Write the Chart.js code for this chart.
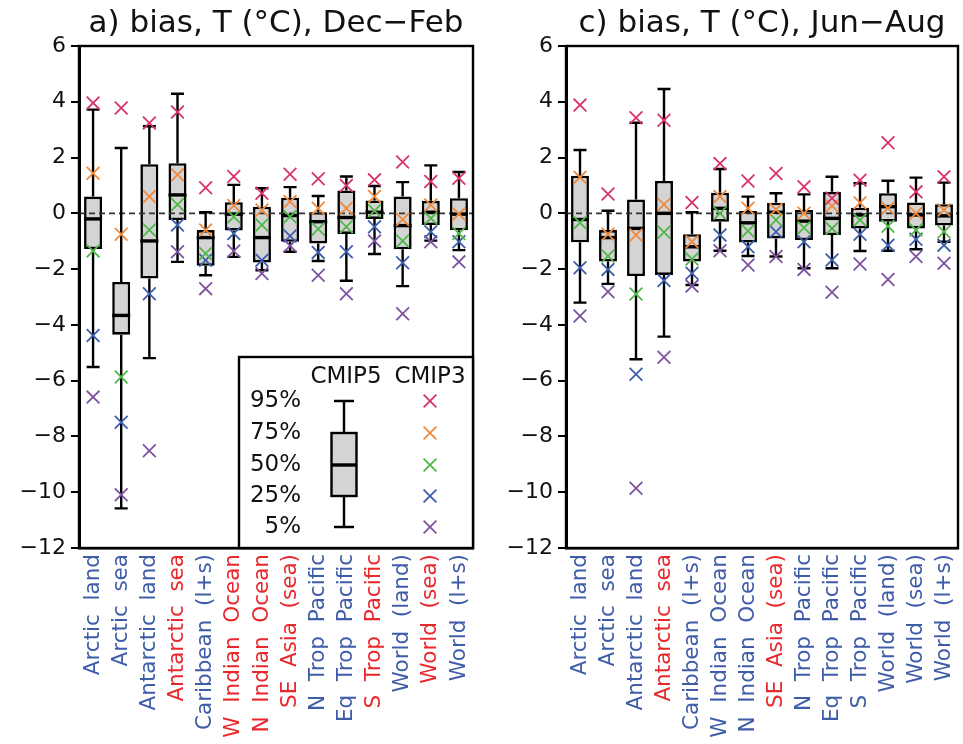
<!DOCTYPE html>
<html>
<head>
<meta charset="utf-8">
<script src="https://cdn.jsdelivr.net/npm/chart.js@4.4.0/dist/chart.umd.min.js"></script>
<style>
  html, body { margin: 0; padding: 0; background: #fff; width: 963px; height: 744px; overflow: hidden; position: relative; }
  canvas { position: absolute; top: 0; }
  #chartA { left: 0; }
  #chartC { left: 483px; }
</style>
</head>
<body>
<canvas id="chartA" width="497" height="744"></canvas>
<canvas id="chartC" width="499" height="744"></canvas>
<script>
// Regions (x-axis categories)
const regions = [
  "Arctic  land", "Arctic  sea", "Antarctic  land", "Antarctic  sea",
  "Caribbean  (l+s)", "W  Indian  Ocean", "N  Indian  Ocean", "SE  Asia  (sea)",
  "N  Trop  Pacific", "Eq  Trop  Pacific", "S  Trop  Pacific",
  "World  (land)", "World  (sea)", "World  (l+s)"
];

// Label colouring: 1 = red, 0 = blue
const djfRed = [0, 0, 0, 1, 0, 1, 1, 1, 0, 0, 1, 0, 1, 0];
const jjaRed = [0, 0, 0, 1, 0, 0, 0, 1, 0, 0, 0, 0, 0, 0];

// y-axis ticks
const yTicks = [6, 4, 2, 0, -2, -4, -6, -8, -10, -12];

// Dec-Feb, CMIP5 ensemble percentiles (box plot)
const djf5_p95 = [3.72, 2.34, 3.12, 4.29, 0.04, 1.02, 0.90, 0.94, 0.62, 1.32, 0.98, 1.12, 1.72, 1.48];
const djf5_p75 = [0.60, -2.46, 1.76, 1.80, -0.60, 0.40, 0.24, 0.56, 0.04, 0.82, 0.46, 0.60, 0.45, 0.54];
const djf5_p50 = [-0.20, -3.66, -0.99, 0.66, -0.87, -0.03, -0.87, -0.08, -0.30, -0.15, 0.04, -0.44, 0.04, -0.03];
const djf5_p25 = [-1.28, -4.35, -2.34, -0.24, -1.88, -0.62, -1.76, -1.02, -1.08, -0.74, -0.20, -1.29, -0.42, -0.61];
const djf5_p5  = [-5.51, -10.58, -5.19, -1.74, -2.22, -1.56, -2.04, -1.38, -1.71, -2.42, -1.46, -2.61, -0.98, -1.32];

// Dec-Feb, CMIP3 ensemble percentiles (crosses)
const djf3_p95 = [3.96, 3.78, 3.24, 3.63, 0.92, 1.32, 0.72, 1.40, 1.24, 1.00, 1.20, 1.84, 1.14, 1.26];
const djf3_p75 = [1.44, -0.75, 0.60, 1.38, -0.60, 0.28, 0.12, 0.42, 0.18, 0.18, 0.60, -0.22, 0.30, -0.02];
const djf3_p50 = [-1.35, -5.87, -0.60, 0.32, -1.44, -0.12, -0.42, -0.12, -0.56, -0.48, 0.09, -0.99, -0.18, -0.72];
const djf3_p25 = [-4.38, -7.49, -2.88, -0.42, -1.68, -0.72, -1.68, -0.81, -1.40, -1.38, -0.48, -1.77, -0.66, -1.02];
const djf3_p5  = [-6.59, -10.09, -8.51, -1.38, -2.70, -1.35, -2.16, -1.16, -2.22, -2.88, -0.99, -3.60, -1.02, -1.74];

// Jun-Aug, CMIP5 ensemble percentiles (box plot)
const jja5_p95 = [2.27, 0.09, 3.25, 4.46, 0.04, 1.59, 0.60, 0.72, 0.68, 1.31, 1.08, 1.17, 1.28, 1.10];
const jja5_p75 = [1.35, -0.60, 0.50, 1.16, -0.75, 0.74, 0.08, 0.38, 0.12, 0.77, 0.20, 0.72, 0.39, 0.33];
const jja5_p50 = [-0.22, -0.87, -0.54, 0.00, -1.20, 0.18, -0.34, 0.04, -0.28, -0.18, -0.06, 0.24, -0.06, -0.09];
const jja5_p25 = [-1.04, -1.73, -2.25, -2.21, -1.73, -0.30, -1.05, -0.90, -0.96, -0.78, -0.54, -0.30, -0.54, -0.44];
const jja5_p5  = [-3.20, -2.53, -5.23, -4.42, -2.57, -1.34, -1.53, -1.55, -1.97, -1.97, -1.35, -1.34, -1.29, -1.02];

// Jun-Aug, CMIP3 ensemble percentiles (crosses)
const jja3_p95 = [3.88, 0.69, 3.43, 3.34, 0.39, 1.79, 1.16, 1.43, 0.95, 0.54, 1.19, 2.53, 0.77, 1.31];
const jja3_p75 = [1.29, -0.75, -0.78, 0.32, -1.02, 0.60, 0.18, 0.14, 0.00, 0.27, 0.38, 0.18, 0.00, 0.12];
const jja3_p50 = [-0.34, -1.53, -2.89, -0.68, -1.64, 0.00, -0.63, -0.24, -0.52, -0.54, -0.24, -0.46, -0.60, -0.66];
const jja3_p25 = [-1.95, -2.01, -5.77, -2.41, -2.15, -0.78, -1.20, -0.66, -1.02, -1.67, -0.75, -1.14, -0.93, -1.14];
const jja3_p5  = [-3.68, -2.81, -9.86, -5.16, -2.61, -1.34, -1.85, -1.55, -2.01, -2.83, -1.82, -2.37, -1.55, -1.79];

const FONT = "'DejaVu Sans', sans-serif";
const BLUE_TXT = '#3f5ca8';
const RED_TXT = '#e8282c';
const pctNames = ['95%', '75%', '50%', '25%', '5%'];
const pctColors = ['#d8326e', '#f08a3c', '#4fb848', '#3d5eab', '#7e539f'];

Chart.defaults.font.family = FONT;

function minusLabel(v) {
  return v < 0 ? '\u2212' + Math.abs(v) : String(v);
}

function drawCross(ctx, x, y, r, color, lw) {
  ctx.save();
  ctx.strokeStyle = color;
  ctx.lineWidth = lw;
  ctx.beginPath();
  ctx.moveTo(x - r, y - r); ctx.lineTo(x + r, y + r);
  ctx.moveTo(x - r, y + r); ctx.lineTo(x + r, y - r);
  ctx.stroke();
  ctx.restore();
}

// Whiskers, medians and the dashed zero line, drawn right after the boxes
function boxPlugin(stats) {
  return {
    id: 'boxWhiskers',
    afterDatasetDraw(chart, args) {
      if (args.index !== 0) return;
      const { ctx, chartArea } = chart;
      const y = chart.scales.y;
      ctx.save();
      const y0 = y.getPixelForValue(0);
      ctx.setLineDash([6, 4]);
      ctx.strokeStyle = '#333';
      ctx.lineWidth = 1.8;
      ctx.beginPath();
      ctx.moveTo(chartArea.left, y0);
      ctx.lineTo(chartArea.right, y0);
      ctx.stroke();
      ctx.setLineDash([]);
      const meta = chart.getDatasetMeta(0);
      meta.data.forEach((bar, i) => {
        const cx = bar.x;
        const half = bar.width / 2;
        const cap = 6.5;
        const yHi = y.getPixelForValue(stats.p95[i]);
        const yLo = y.getPixelForValue(stats.p5[i]);
        const yQ3 = y.getPixelForValue(stats.p75[i]);
        const yQ1 = y.getPixelForValue(stats.p25[i]);
        const yMed = y.getPixelForValue(stats.p50[i]);
        ctx.strokeStyle = '#000';
        ctx.lineWidth = 2.4;
        ctx.beginPath();
        ctx.moveTo(cx, yQ3); ctx.lineTo(cx, yHi);
        ctx.moveTo(cx - cap, yHi); ctx.lineTo(cx + cap, yHi);
        ctx.moveTo(cx, yQ1); ctx.lineTo(cx, yLo);
        ctx.moveTo(cx - cap, yLo); ctx.lineTo(cx + cap, yLo);
        ctx.stroke();
        ctx.lineWidth = 3.4;
        ctx.beginPath();
        ctx.moveTo(cx - half, yMed); ctx.lineTo(cx + half, yMed);
        ctx.stroke();
      });
      ctx.restore();
    }
  };
}

// Black frame round the plotting area
const framePlugin = {
  id: 'frame',
  afterDraw(chart) {
    const { ctx, chartArea: a } = chart;
    ctx.save();
    ctx.strokeStyle = '#000';
    ctx.lineWidth = 2.4;
    ctx.strokeRect(a.left, a.top, a.right - a.left, a.bottom - a.top);
    ctx.restore();
  }
};

// Key explaining the box plot and the crosses
const keyPlugin = {
  id: 'key',
  afterDraw(chart) {
    const { ctx, chartArea: a } = chart;
    const left = 239, top = 357;
    ctx.save();
    ctx.fillStyle = '#fff';
    ctx.fillRect(left, top, a.right - left, a.bottom - top);
    ctx.strokeStyle = '#000';
    ctx.lineWidth = 2.4;
    ctx.strokeRect(left, top, a.right - left, a.bottom - top);

    ctx.fillStyle = '#111';
    ctx.font = '23px ' + FONT;
    ctx.textBaseline = 'middle';
    ctx.textAlign = 'center';
    ctx.fillText('CMIP5', 346, 377);
    ctx.fillText('CMIP3', 430, 377);

    const rows = [401, 433, 465, 496, 527];
    ctx.textAlign = 'right';
    ctx.font = '23px ' + FONT;
    rows.forEach((ry, k) => {
      ctx.fillStyle = '#111';
      ctx.fillText(pctNames[k], 301, ry);
      drawCross(ctx, 430, ry, 6.4, pctColors[k], 1.8);
    });

    // sample box
    const bx = 344, bw = 25, cap = 10;
    ctx.strokeStyle = '#000';
    ctx.lineWidth = 2.4;
    ctx.beginPath();
    ctx.moveTo(bx, rows[0]); ctx.lineTo(bx, rows[1]);
    ctx.moveTo(bx - cap, rows[0]); ctx.lineTo(bx + cap, rows[0]);
    ctx.moveTo(bx, rows[3]); ctx.lineTo(bx, rows[4]);
    ctx.moveTo(bx - cap, rows[4]); ctx.lineTo(bx + cap, rows[4]);
    ctx.stroke();
    ctx.fillStyle = '#d4d4d4';
    ctx.fillRect(bx - bw / 2, rows[1], bw, rows[3] - rows[1]);
    ctx.strokeRect(bx - bw / 2, rows[1], bw, rows[3] - rows[1]);
    ctx.lineWidth = 3.4;
    ctx.beginPath();
    ctx.moveTo(bx - bw / 2, rows[2]); ctx.lineTo(bx + bw / 2, rows[2]);
    ctx.stroke();
    ctx.restore();
  }
};

function makeChart(id, opts) {
  const s5 = opts.cmip5;
  const s3 = opts.cmip3;
  const crossSets = [s3.p95, s3.p75, s3.p50, s3.p25, s3.p5].map((vals, k) => ({
    type: 'line',
    label: 'CMIP3 ' + pctNames[k],
    data: vals,
    showLine: false,
    pointStyle: 'crossRot',
    pointRadius: 9,
    pointBorderWidth: 1.8,
    borderColor: pctColors[k],
    backgroundColor: pctColors[k],
    order: 1
  }));
  const plugins = [boxPlugin(s5), framePlugin];
  if (opts.key) plugins.push(keyPlugin);

  return new Chart(document.getElementById(id), {
    data: {
      labels: regions,
      datasets: [
        {
          type: 'bar',
          label: 'CMIP5 25-75%',
          data: s5.p25.map((v, i) => [v, s5.p75[i]]),
          backgroundColor: '#d4d4d4',
          borderColor: '#000',
          borderWidth: 2.6,
          borderSkipped: false,
          categoryPercentage: 1,
          barPercentage: 0.64,
          order: 2
        },
        ...crossSets
      ]
    },
    options: {
      responsive: false,
      animation: false,
      events: [],
      layout: { padding: { left: 0, right: opts.padRight, top: 0, bottom: 0 } },
      plugins: {
        legend: { display: false },
        tooltip: { enabled: false },
        title: {
          display: true,
          text: opts.title,
          fullSize: false,
          color: '#111',
          font: { family: FONT, size: 31, weight: 'normal', lineHeight: 1.2 },
          padding: { top: 5.5, bottom: 3.3 }
        }
      },
      scales: {
        x: {
          type: 'category',
          offset: true,
          grid: { display: false, drawTicks: false },
          border: { display: true, color: '#000', width: 2.4 },
          ticks: {
            autoSkip: false,
            minRotation: 90,
            maxRotation: 90,
            padding: 6,
            font: { family: FONT, size: 21.5 },
            color: (c) => (opts.red[c.index] ? RED_TXT : BLUE_TXT)
          },
          afterFit(scale) {
            scale.height = 196;
          }
        },
        y: {
          min: -12,
          max: 6,
          afterBuildTicks(scale) {
            scale.ticks = yTicks.map(v => ({ value: v }));
          },
          grid: { drawOnChartArea: false, drawTicks: true, tickLength: 8, color: '#000', lineWidth: 2 },
          border: { display: true, color: '#000', width: 3 },
          ticks: {
            padding: 5,
            color: '#111',
            font: { family: FONT, size: 22 },
            callback: (v) => minusLabel(v)
          },
          afterFit(scale) {
            scale.width = opts.yWidth;
          }
        }
      }
    },
    plugins
  });
}

makeChart('chartA', {
  title: 'a) bias, T (\u00B0C), Dec\u2212Feb',
  cmip5: { p95: djf5_p95, p75: djf5_p75, p50: djf5_p50, p25: djf5_p25, p5: djf5_p5 },
  cmip3: { p95: djf3_p95, p75: djf3_p75, p50: djf3_p50, p25: djf3_p25, p5: djf3_p5 },
  red: djfRed,
  yWidth: 79,
  padRight: 24,
  key: true
});

makeChart('chartC', {
  title: 'c) bias, T (\u00B0C), Jun\u2212Aug',
  cmip5: { p95: jja5_p95, p75: jja5_p75, p50: jja5_p50, p25: jja5_p25, p5: jja5_p5 },
  cmip3: { p95: jja3_p95, p75: jja3_p75, p50: jja3_p50, p25: jja3_p25, p5: jja3_p5 },
  red: jjaRed,
  yWidth: 83,
  padRight: 24,
  key: false
});
</script>
</body>
</html>
